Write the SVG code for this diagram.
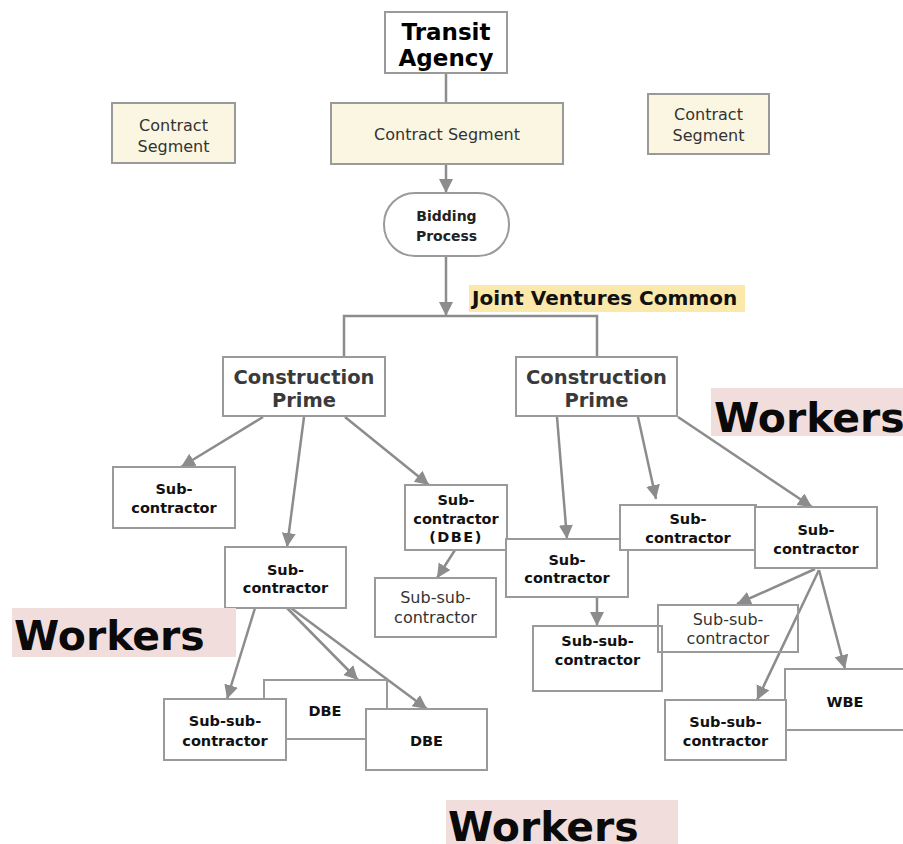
<svg xmlns="http://www.w3.org/2000/svg" width="903" height="844" viewBox="0 0 903 844">
<style>
  .box { fill: #ffffff; stroke: #9a9a9a; stroke-width: 2; }
  .cream { fill: #fbf6e2; stroke: #9a9a9a; stroke-width: 2; }
  .t { font-family: "DejaVu Sans", Verdana, sans-serif; text-anchor: middle; }
  .b { font-weight: bold; fill: #111; font-size: 14.5px; }
  .n { font-weight: normal; fill: #333; font-size: 16px; }
  .cs { font-weight: normal; fill: #333; font-size: 16px; }
  .cp { font-weight: bold; fill: #3a3a3a; font-size: 19.5px; }
  .wk { font-family: "DejaVu Sans", Verdana, sans-serif; font-weight: bold; font-size: 41px; fill: #0a0a0a; }
  .hl-pink { fill: #f1dedc; }
  .conn line, .conn path { stroke: #8c8c8c; stroke-width: 2.5; fill: none; }
</style>
<defs>
  <marker id="arr" markerUnits="userSpaceOnUse" markerWidth="15" markerHeight="15" refX="14" refY="7" orient="auto">
    <path d="M0,0 L14,7 L0,14 z" fill="#8c8c8c"/>
  </marker>
</defs>
<rect width="903" height="844" fill="#ffffff"/>

<g class="conn" id="connectors">
  <line x1="446" y1="73" x2="446" y2="103"/>
  <line x1="446" y1="164" x2="446" y2="193" marker-end="url(#arr)"/>
  <line x1="446" y1="256" x2="446" y2="316" marker-end="url(#arr)"/>
  <path d="M344,357 V316 H597 V357"/>
  <line x1="263" y1="417" x2="181" y2="467" marker-end="url(#arr)"/>
  <line x1="304" y1="417" x2="287" y2="547" marker-end="url(#arr)"/>
  <line x1="345" y1="417" x2="429" y2="485" marker-end="url(#arr)"/>
  <line x1="557" y1="417" x2="567" y2="539" marker-end="url(#arr)"/>
  <line x1="638" y1="417" x2="656" y2="499" marker-end="url(#arr)"/>
  <line x1="678" y1="417" x2="812" y2="507" marker-end="url(#arr)"/>
  <line x1="255" y1="608" x2="227" y2="699" marker-end="url(#arr)"/>
  <line x1="287" y1="608" x2="358" y2="680" marker-end="url(#arr)"/>
  <line x1="291" y1="608" x2="427" y2="709" marker-end="url(#arr)"/>
  <line x1="455" y1="550" x2="437" y2="578" marker-end="url(#arr)"/>
  <line x1="597" y1="597" x2="597" y2="626" marker-end="url(#arr)"/>
  <line x1="815" y1="569" x2="737" y2="604" marker-end="url(#arr)"/>
  <line x1="819" y1="570" x2="757" y2="700" marker-end="url(#arr)"/>
  <line x1="819" y1="570" x2="845" y2="669" marker-end="url(#arr)"/>
</g>

<g id="transit-agency">
  <rect class="box" x="385" y="12" width="122" height="61"/>
  <text class="t" x="446" y="40" font-weight="bold" font-size="23" fill="#000">Transit</text>
  <text class="t" x="446" y="66" font-weight="bold" font-size="23" fill="#000">Agency</text>
</g>

<g id="contract-segment-left">
  <rect class="cream" x="112" y="103" width="123" height="60"/>
  <text class="t cs" x="173.5" y="131">Contract</text>
  <text class="t cs" x="173.5" y="152">Segment</text>
</g>

<g id="contract-segment-center">
  <rect class="cream" x="331" y="103" width="232" height="61"/>
  <text class="t cs" x="447" y="140">Contract Segment</text>
</g>

<g id="contract-segment-right">
  <rect class="cream" x="648" y="94" width="121" height="60"/>
  <text class="t cs" x="708.5" y="120">Contract</text>
  <text class="t cs" x="708.5" y="141">Segment</text>
</g>

<g id="bidding-process">
  <rect class="box" x="384" y="193" width="125" height="63" rx="31" ry="31"/>
  <text class="t" x="446.5" y="221" font-weight="bold" font-size="14" fill="#222">Bidding</text>
  <text class="t" x="446.5" y="241" font-weight="bold" font-size="14" fill="#222">Process</text>
</g>

<g id="joint-ventures">
  <rect x="469" y="285" width="276" height="27" fill="#fbe8ab"/>
  <text x="472" y="305" font-family="DejaVu Sans, Verdana, sans-serif" font-weight="bold" font-size="20" fill="#111">Joint Ventures Common</text>
</g>

<g id="construction-prime-left">
  <rect class="box" x="223" y="357" width="162" height="59"/>
  <text class="t cp" x="304" y="384">Construction</text>
  <text class="t cp" x="304" y="407">Prime</text>
</g>

<g id="construction-prime-right">
  <rect class="box" x="516" y="357" width="161" height="59"/>
  <text class="t cp" x="596.5" y="384">Construction</text>
  <text class="t cp" x="596.5" y="407">Prime</text>
</g>

<g id="workers-right">
  <rect class="hl-pink" x="711" y="388" width="192" height="48"/>
  <text class="wk" x="714" y="432">Workers</text>
</g>

<g id="sub-left">
  <rect class="box" x="113" y="467" width="122" height="61"/>
  <text class="t b" x="174" y="494">Sub-</text>
  <text class="t b" x="174" y="513">contractor</text>
</g>

<g id="sub-under-left">
  <rect class="box" x="225" y="547" width="121" height="61"/>
  <text class="t b" x="285.5" y="575">Sub-</text>
  <text class="t b" x="285.5" y="593">contractor</text>
</g>

<g id="sub-dbe">
  <rect class="box" x="405" y="485" width="102" height="65"/>
  <text class="t b" x="456" y="505">Sub-</text>
  <text class="t b" x="456" y="524">contractor</text>
  <text class="t b" x="456" y="542" letter-spacing="1.5">(DBE)</text>
</g>

<g id="subsub-a">
  <rect class="box" x="375" y="578" width="121" height="59"/>
  <text class="t n" x="435.5" y="603">Sub-sub-</text>
  <text class="t n" x="435.5" y="623">contractor</text>
</g>

<g id="sub-mid-right">
  <rect class="box" x="506" y="539" width="122" height="58"/>
  <text class="t b" x="567" y="565">Sub-</text>
  <text class="t b" x="567" y="583">contractor</text>
</g>

<g id="sub-4">
  <rect class="box" x="620" y="505" width="136" height="45"/>
  <text class="t b" x="688" y="524">Sub-</text>
  <text class="t b" x="688" y="543">contractor</text>
</g>

<g id="sub-right">
  <rect class="box" x="755" y="507" width="122" height="61"/>
  <text class="t b" x="816" y="535">Sub-</text>
  <text class="t b" x="816" y="554">contractor</text>
</g>

<g id="subsub-c">
  <rect class="box" x="533" y="626" width="129" height="65"/>
  <text class="t b" x="597.5" y="646">Sub-sub-</text>
  <text class="t b" x="597.5" y="665">contractor</text>
</g>

<g id="subsub-b">
  <rect class="box" x="658" y="605" width="140" height="47" fill-opacity="0"/>
  <text class="t n" x="728" y="625">Sub-sub-</text>
  <text class="t n" x="728" y="644">contractor</text>
</g>

<g id="wbe">
  <rect class="box" x="785" y="669" width="130" height="61"/>
  <text class="t b" x="845" y="707">WBE</text>
</g>

<g id="subsub-d">
  <rect class="box" x="665" y="700" width="121" height="60"/>
  <text class="t b" x="725.5" y="727">Sub-sub-</text>
  <text class="t b" x="725.5" y="746">contractor</text>
</g>

<g id="workers-left">
  <rect class="hl-pink" x="12" y="608" width="224" height="49"/>
  <text class="wk" x="14" y="650">Workers</text>
</g>

<g id="dbe-back">
  <rect class="box" x="264" y="680" width="123" height="59"/>
  <text class="t b" x="325" y="716">DBE</text>
</g>

<g id="subsub-e">
  <rect class="box" x="164" y="699" width="122" height="61"/>
  <text class="t b" x="225" y="726">Sub-sub-</text>
  <text class="t b" x="225" y="746">contractor</text>
</g>

<g id="dbe-front">
  <rect class="box" x="366" y="709" width="121" height="61"/>
  <text class="t b" x="426.5" y="746">DBE</text>
</g>

<g id="workers-bottom">
  <rect class="hl-pink" x="446" y="800" width="232" height="44"/>
  <text class="wk" x="448" y="841">Workers</text>
</g>
</svg>
